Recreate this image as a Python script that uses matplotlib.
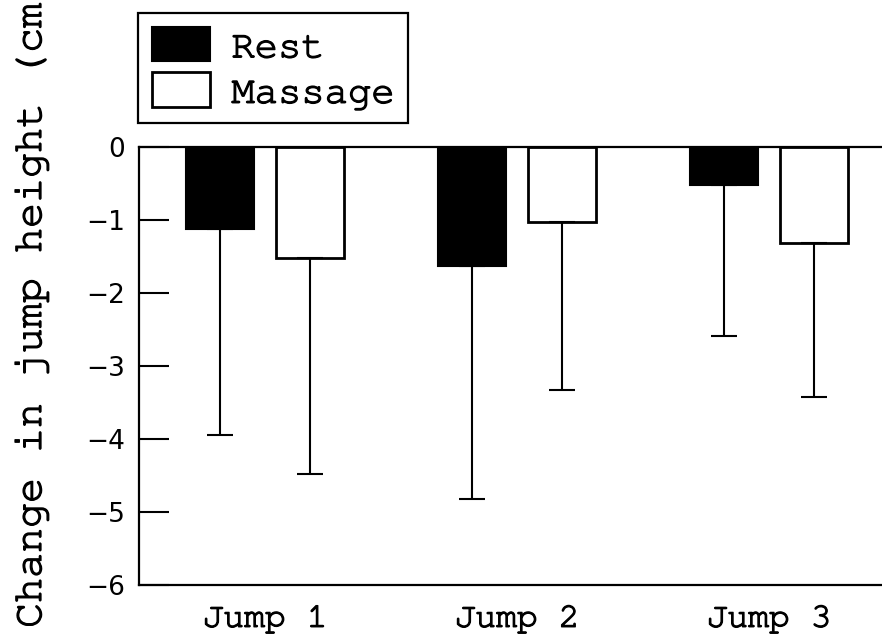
import numpy as np
import matplotlib
matplotlib.use("Agg")
import matplotlib.pyplot as plt
import matplotlib.transforms as mtransforms
import matplotlib.patheffects as pe
from matplotlib import font_manager

# Mean change in jump height and lower error (SD) per condition
jumps = ["Jump 1", "Jump 2", "Jump 3"]
rest_mean = [-1.12, -1.63, -0.52]
rest_err = [2.83, 3.19, 2.06]
massage_mean = [-1.52, -1.02, -1.31]
massage_err = [2.96, 2.31, 2.11]
yticks = [0, -1, -2, -3, -4, -5, -6]

# prefer a Courier-style typewriter face when one is available
installed = {f.name for f in font_manager.fontManager.ttflist}
mono = next((f for f in ["Courier New", "Nimbus Mono PS", "Courier",
                         "FreeMono", "Liberation Mono"] if f in installed),
            "DejaVu Sans Mono")
# the typewriter face is rather thin, give it a little more weight
heavy = [pe.withStroke(linewidth=0.9, foreground="black")]

fig = plt.figure(figsize=(8.82, 6.35), dpi=100)
ax = fig.add_axes([139 / 882, 50 / 635, 756 / 882, 437.7 / 635])

x = np.arange(1, len(jumps) + 1)
width = 0.27
off = 0.179
errkw = dict(ecolor="black", elinewidth=1.5, capsize=9.4, capthick=1.5)

ax.bar(x - off, rest_mean, width, color="black", edgecolor="black",
       linewidth=1.5, label="Rest",
       yerr=[rest_err, np.zeros(3)], error_kw=errkw)
ax.bar(x + off, massage_mean, width, color="white", edgecolor="black",
       linewidth=2.0, label="Massage",
       yerr=[massage_err, np.zeros(3)], error_kw=errkw)

ax.set_xlim(0.5, 3.5)
ax.set_ylim(-6, 0)
ax.set_yticks(yticks)
ax.set_yticklabels(["0" if t == 0 else "\u2212%d" % -t for t in yticks],
                   family="DejaVu Sans", fontsize=19)
ax.set_xticks(x)
ax.set_xticklabels(jumps, family=mono, fontsize=25)
shift = mtransforms.ScaledTranslation(0.06, 0, fig.dpi_scale_trans)
for lab in ax.get_xticklabels():
    lab.set_transform(lab.get_transform() + shift)
    lab.set_path_effects(heavy)
ax.tick_params(axis="y", direction="in", length=21.5, width=1.5, pad=10)
ax.tick_params(axis="x", length=0, pad=15)
for s in ax.spines.values():
    s.set_linewidth(1.6)
ax.spines["right"].set_visible(False)

fig.text(32 / 882, 7 / 635, "Change in jump height (cm)", rotation=90,
         ha="center", va="bottom", family=mono, fontsize=30,
         path_effects=heavy)

leg = fig.legend(loc="upper left", bbox_to_anchor=(138 / 882, 1 - 13 / 635),
                 prop={"family": mono, "size": 28}, frameon=True,
                 fancybox=False, edgecolor="black", framealpha=1,
                 borderaxespad=0, borderpad=0.35, handlelength=1.5,
                 handleheight=1.0, handletextpad=0.55, labelspacing=0.2)
leg.get_frame().set_linewidth(1.6)
for t in leg.get_texts():
    t.set_path_effects(heavy)

fig.savefig("out.png", dpi=100)
